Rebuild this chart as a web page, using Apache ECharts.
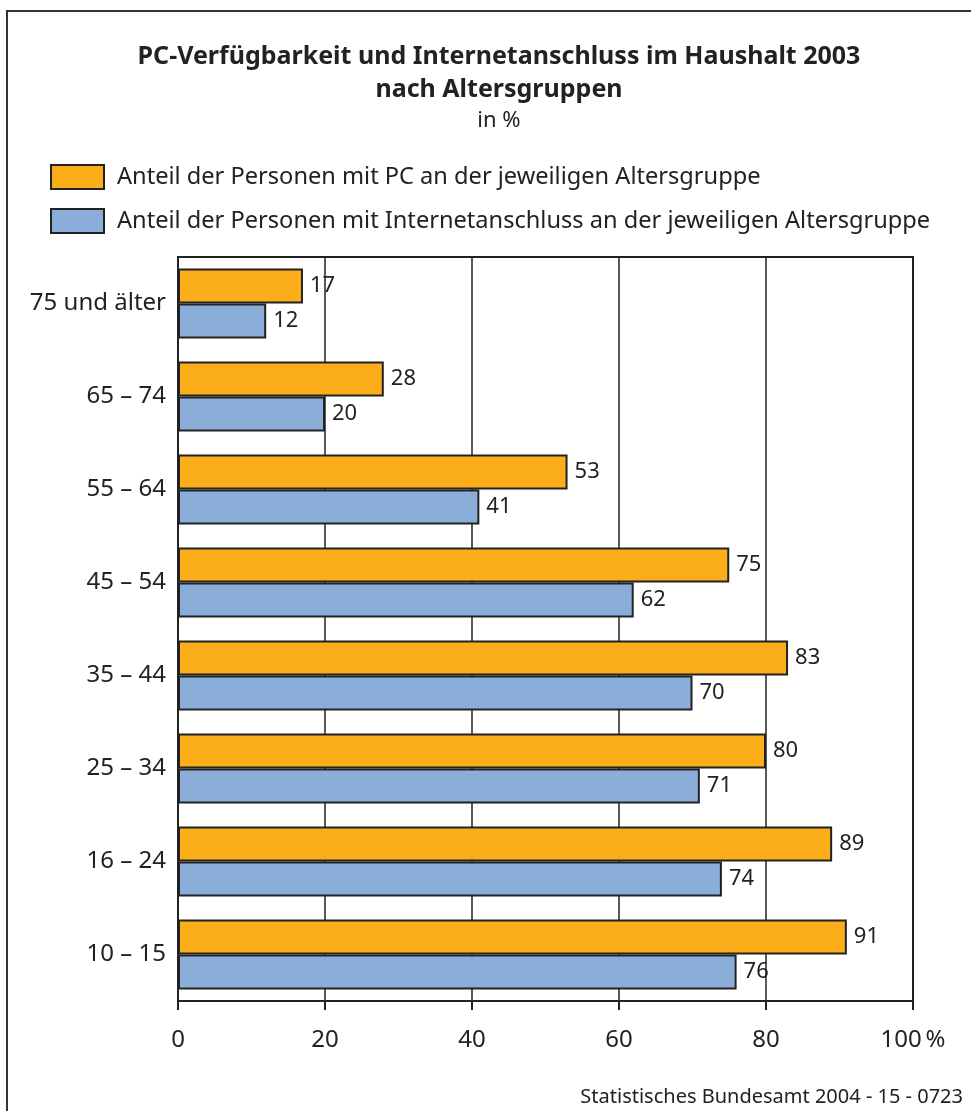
<!DOCTYPE html>
<html><head><meta charset="utf-8">
<script src="https://cdn.jsdelivr.net/npm/echarts@6/dist/echarts.min.js"></script>
<style>html,body{margin:0;padding:0;background:#fff}#c{width:971px;height:1111px}</style>
</head><body><div id="c"></div>
<script>
const categories = ["75 und älter","65 – 74","55 – 64","45 – 54","35 – 44","25 – 34","16 – 24","10 – 15"];
const pcValues = [17,28,53,75,83,80,89,91];
const internetValues = [12,20,41,62,70,71,74,76];
const seriesNames = ["Anteil der Personen mit PC an der jeweiligen Altersgruppe","Anteil der Personen mit Internetanschluss an der jeweiligen Altersgruppe"];
const xTicks = [0,20,40,60,80,100];

const FONT = "Noto Sans";
const chart = echarts.init(document.getElementById('c'), null, {renderer:'canvas'});
const labelCfg = {show:true, position:'right', distance:7, fontFamily:FONT, fontSize:22, color:'#222'};
chart.setOption({
  animation:false,
  textStyle:{fontFamily:FONT},
  title:[
    {text:"PC-Verfügbarkeit und Internetanschluss im Haushalt 2003\nnach Altersgruppen", left:494, textAlign:'center', top:35,
     textStyle:{fontFamily:FONT, fontSize:25, fontWeight:'bold', color:'#222', lineHeight:33}},
    {text:"in %", left:494, textAlign:'center', top:105, textStyle:{fontFamily:FONT, fontSize:22, fontWeight:'normal', color:'#222'}},
    {text:"Statistisches Bundesamt 2004 - 15 - 0723", right:3, top:1082, textStyle:{fontFamily:FONT, fontSize:20, fontWeight:'normal', color:'#222'}}
  ],
  legend:{orient:'vertical', left:50, top:164, padding:0, itemWidth:53, itemHeight:24, itemGap:18, icon:'rect',
    textStyle:{fontFamily:FONT, fontSize:23.6, color:'#222', padding:[0,0,0,8]},
    data:seriesNames},
  grid:{left:178, right:58, top:257, bottom:110, show:true, borderColor:'#222', borderWidth:2, containLabel:false},
  xAxis:{type:'value', min:0, max:100, interval:20,
    axisLine:{show:true, lineStyle:{color:'#222', width:2}},
    axisTick:{show:true, length:9, lineStyle:{color:'#222', width:2}},
    splitLine:{show:true, lineStyle:{color:'#222', width:1.5}},
    axisLabel:{margin:27, fontFamily:FONT, fontSize:24, color:'#222',
      formatter:function(v){ const i = xTicks.indexOf(v); return i===xTicks.length-1 ? v+'\u2009%' : String(v);} }},
  yAxis:{type:'category', data:categories, inverse:true,
    axisLine:{show:true, lineStyle:{color:'#222', width:2}},
    axisTick:{show:false},
    axisLabel:{margin:12, fontFamily:FONT, fontSize:24, color:'#222'}},
  series:[
    {name:seriesNames[0], type:'bar', data:pcValues, barWidth:35, barGap:'0%',
     itemStyle:{color:'#FBAE19', borderColor:'#222', borderWidth:2}, label:labelCfg},
    {name:seriesNames[1], type:'bar', data:internetValues, barWidth:35, barGap:'0%',
     itemStyle:{color:'#8BADDA', borderColor:'#222', borderWidth:2}, label:labelCfg}
  ],
  graphic:[{type:'rect', shape:{x:7, y:11, width:1000, height:1200}, style:{fill:null, stroke:'#333', lineWidth:2}, silent:true, z:-10}]
});
</script></body></html>
